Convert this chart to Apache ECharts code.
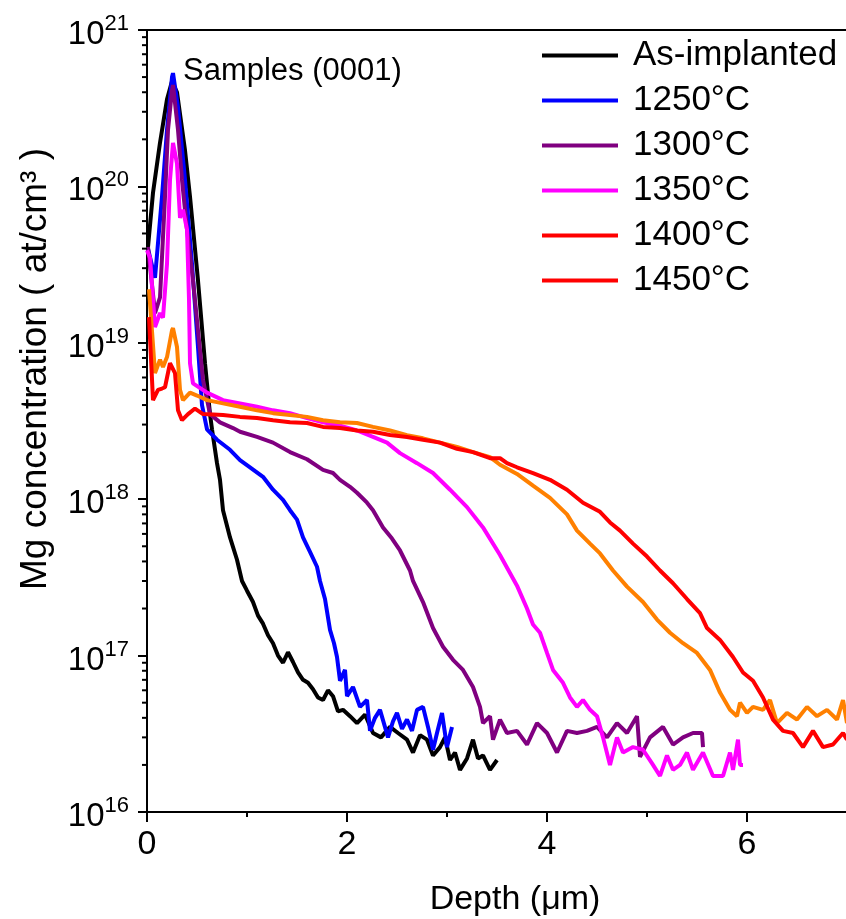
<!DOCTYPE html>
<html><head><meta charset="utf-8">
<script src="https://cdn.jsdelivr.net/npm/echarts@6/dist/echarts.min.js"></script>
<style>html,body{margin:0;padding:0;background:#fff}#c{width:846px;height:919px}</style>
</head><body><div id="c"></div>
<script>
// ---- data (depth in µm, Mg concentration in at/cm3) ----
const seriesNames = ['As-implanted', '1250°C', '1300°C', '1350°C', '1400°C', '1450°C'];
const xTicks = [0, 2, 4, 6];
const yDecades = [1e16, 1e17, 1e18, 1e19, 1e20, 1e21];

const asImpDepth = [0.01,0.06,0.13,0.20,0.25,0.30,0.33,0.38,0.43,0.51,0.58,0.63,0.65,0.70,0.73,0.76,0.83,0.90,0.95,1.00,1.06,1.11,1.16,1.21,1.26,1.31,1.36,1.41,1.46,1.51,1.56,1.61,1.66,1.71,1.76,1.81,1.86,1.91,1.96,2.03,2.10,2.18,2.26,2.34,2.43,2.51,2.60,2.66,2.73,2.80,2.86,2.93,2.98,3.03,3.08,3.13,3.20,3.26,3.31,3.36,3.43,3.50];
const asImpConc = [4.1e19,9.1e19,1.9e20,3.6e20,4.7e20,4.0e20,2.9e20,1.7e20,8.6e19,2.5e19,7.4e18,3.5e18,2.8e18,1.7e18,1.33e18,8.5e17,5.7e17,4.1e17,3.0e17,2.6e17,2.2e17,1.8e17,1.6e17,1.35e17,1.2e17,1.0e17,9.0e16,1.05e17,9.1e16,7.8e16,7.0e16,6.7e16,6.1e16,5.4e16,5.2e16,6.0e16,5.5e16,4.4e16,4.5e16,4.1e16,3.7e16,4.2e16,3.2e16,3.0e16,3.5e16,3.2e16,2.9e16,2.4e16,3.1e16,2.9e16,2.3e16,2.6e16,3.0e16,2.15e16,2.4e16,1.86e16,2.2e16,2.9e16,2.2e16,2.3e16,1.86e16,2.15e16];

const t1250Depth = [0.01,0.08,0.15,0.20,0.25,0.26,0.31,0.38,0.45,0.51,0.55,0.60,0.70,0.83,0.93,1.03,1.16,1.26,1.36,1.43,1.50,1.56,1.63,1.70,1.73,1.78,1.83,1.87,1.90,1.93,1.98,2.00,2.06,2.13,2.20,2.23,2.28,2.33,2.41,2.46,2.50,2.55,2.60,2.65,2.70,2.76,2.81,2.86,2.90,2.95,3.00,3.05];
const t1250Conc = [4.0e19,2.6e19,8.6e19,2.3e20,5.0e20,5.3e20,3.2e20,1.1e20,3.2e19,9.4e18,4.0e18,2.8e18,2.4e18,2.07e18,1.78e18,1.6e18,1.39e18,1.15e18,9.9e17,8.5e17,7.4e17,5.7e17,4.6e17,3.7e17,3.0e17,2.3e17,1.46e17,1.2e17,9.8e16,6.9e16,8.1e16,5.5e16,6.3e16,4.7e16,5.2e16,3.3e16,4.0e16,4.5e16,3.0e16,3.8e16,4.3e16,3.4e16,3.9e16,3.3e16,4.5e16,4.7e16,3.5e16,2.5e16,3.2e16,4.3e16,2.6e16,3.5e16];

const t1300Depth = [0.01,0.08,0.13,0.18,0.21,0.25,0.26,0.31,0.35,0.40,0.46,0.51,0.56,0.63,0.73,0.86,0.93,1.10,1.26,1.43,1.60,1.76,1.86,1.93,2.03,2.10,2.20,2.26,2.36,2.45,2.53,2.63,2.66,2.76,2.86,2.96,3.06,3.16,3.26,3.33,3.36,3.43,3.46,3.53,3.60,3.70,3.80,3.90,4.00,4.10,4.20,4.30,4.40,4.50,4.60,4.70,4.80,4.90,4.93,5.03,5.16,5.26,5.36,5.46,5.55,5.56];
const t1300Conc = [4.1e19,1.55e19,1.95e19,8.6e19,2.3e20,4.1e20,4.45e20,2.3e20,1.1e20,5.3e19,2.5e19,1.2e19,5.8e18,3.5e18,3.1e18,2.85e18,2.7e18,2.5e18,2.3e18,2.0e18,1.8e18,1.54e18,1.47e18,1.33e18,1.2e18,1.1e18,9.5e17,8.5e17,6.6e17,5.6e17,4.7e17,3.5e17,3.0e17,2.2e17,1.5e17,1.14e17,9.4e16,8.1e16,6.3e16,4.7e16,3.7e16,4.1e16,2.9e16,3.9e16,3.2e16,3.3e16,2.7e16,3.7e16,3.2e16,2.4e16,3.3e16,3.2e16,3.3e16,3.5e16,3.0e16,3.7e16,3.2e16,4.1e16,2.25e16,3.0e16,3.5e16,2.7e16,3.0e16,3.2e16,3.2e16,2.6e16];

const t1350Depth = [0.00,0.03,0.08,0.13,0.16,0.20,0.23,0.26,0.30,0.33,0.36,0.40,0.42,0.43,0.46,0.60,0.76,0.93,1.10,1.26,1.43,1.60,1.76,1.93,2.10,2.26,2.40,2.53,2.70,2.86,3.03,3.20,3.36,3.53,3.70,3.80,3.86,3.93,4.00,4.06,4.16,4.23,4.30,4.36,4.43,4.50,4.56,4.63,4.70,4.76,4.86,4.96,5.06,5.13,5.20,5.26,5.33,5.40,5.46,5.56,5.66,5.76,5.83,5.86,5.91,5.93,5.96];
const t1350Conc = [3.9e19,3.5e19,1.26e19,1.55e19,1.45e19,3.2e19,1.1e20,1.9e20,1.4e20,6.3e19,7.1e19,5.3e19,1.9e19,7.4e18,5.5e18,4.8e18,4.3e18,4.1e18,3.9e18,3.7e18,3.55e18,3.3e18,3.1e18,2.95e18,2.75e18,2.5e18,2.3e18,1.97e18,1.7e18,1.47e18,1.15e18,8.9e17,6.6e17,4.4e17,2.8e17,2.0e17,1.58e17,1.4e17,1.04e17,8.1e16,6.7e16,5.4e16,4.7e16,5.2e16,4.5e16,4.1e16,3.0e16,2.0e16,3.0e16,2.4e16,2.6e16,2.5e16,2.0e16,1.7e16,2.3e16,1.86e16,2.0e16,2.4e16,1.86e16,2.4e16,1.7e16,1.7e16,2.4e16,1.86e16,2.9e16,2.0e16,2.0e16];

const t1400Depth = [0.02,0.08,0.13,0.16,0.20,0.25,0.26,0.30,0.33,0.36,0.43,0.50,0.60,0.76,0.93,1.10,1.26,1.43,1.60,1.76,1.93,2.10,2.26,2.43,2.60,2.76,2.93,3.10,3.26,3.43,3.53,3.70,3.86,4.03,4.20,4.30,4.43,4.53,4.66,4.80,4.96,5.10,5.23,5.36,5.50,5.63,5.73,5.83,5.90,5.93,6.00,6.06,6.16,6.23,6.30,6.40,6.50,6.60,6.70,6.80,6.90,6.96,7.00];
const t1400Conc = [2.2e19,6.4e18,7.8e18,7.0e18,8.1e18,1.2e19,1.24e19,9.4e18,5.0e18,4.3e18,4.8e18,4.6e18,4.3e18,4.1e18,3.9e18,3.7e18,3.55e18,3.45e18,3.36e18,3.2e18,3.1e18,3.07e18,2.9e18,2.75e18,2.57e18,2.45e18,2.3e18,2.16e18,2.0e18,1.86e18,1.66e18,1.45e18,1.22e18,1.02e18,8.0e17,6.3e17,5.2e17,4.5e17,3.5e17,2.76e17,2.2e17,1.7e17,1.4e17,1.2e17,1.04e17,8.1e16,5.8e16,4.5e16,4.1e16,5.0e16,4.3e16,4.7e16,4.5e16,5.2e16,3.7e16,4.3e16,3.9e16,4.7e16,4.1e16,4.5e16,3.9e16,5.2e16,3.7e16];

const t1450Depth = [0.02,0.06,0.11,0.15,0.18,0.23,0.25,0.28,0.31,0.35,0.41,0.48,0.56,0.76,0.93,1.10,1.26,1.43,1.60,1.76,1.93,2.10,2.26,2.43,2.60,2.76,2.93,3.10,3.26,3.43,3.53,3.60,3.70,3.86,4.03,4.20,4.36,4.53,4.63,4.73,4.86,5.00,5.13,5.26,5.40,5.53,5.60,5.73,5.86,5.96,6.06,6.16,6.26,6.36,6.46,6.56,6.66,6.76,6.86,6.96,7.00];
const t1450Conc = [1.46e19,4.3e18,5.0e18,5.1e18,5.2e18,7.4e18,7.5e18,6.4e18,3.7e18,3.2e18,3.5e18,3.8e18,3.5e18,3.45e18,3.36e18,3.3e18,3.2e18,3.1e18,3.07e18,2.9e18,2.85e18,2.75e18,2.7e18,2.57e18,2.5e18,2.4e18,2.3e18,2.1e18,2.0e18,1.83e18,1.83e18,1.7e18,1.6e18,1.47e18,1.33e18,1.15e18,9.5e17,8.3e17,7.1e17,6.3e17,5.2e17,4.3e17,3.5e17,2.9e17,2.3e17,1.87e17,1.5e17,1.26e17,9.8e16,7.8e16,6.9e16,5.4e16,3.9e16,3.3e16,3.2e16,2.6e16,3.3e16,2.6e16,2.7e16,3.2e16,2.9e16];

const seriesColors = ['#000000', '#0000ff', '#800080', '#ff00ff', '#ff8000', '#ff0000'];
const legendColors = ['#000000', '#0000ff', '#800080', '#ff00ff', '#ff0000', '#ff0000'];

const depths = [asImpDepth, t1250Depth, t1300Depth, t1350Depth, t1400Depth, t1450Depth];
const concs = [asImpConc, t1250Conc, t1300Conc, t1350Conc, t1400Conc, t1450Conc];

// minor tick values for log axis (2..9 x each decade)
const minorVals = [];
for (let e = 16; e < 21; e++) for (let m = 2; m <= 9; m++) minorVals.push([0, m * Math.pow(10, e)]);

const FONT = 'Liberation Sans, Arial, sans-serif';

const chart = echarts.init(document.getElementById('c'), null, {renderer: 'canvas'});

const lineSeries = seriesNames.map((n, i) => ({
  name: n, type: 'line', showSymbol: false, symbol: 'none',
  data: depths[i].map((d, j) => [d, concs[i][j]]),
  lineStyle: {color: seriesColors[i], width: 4},
  itemStyle: {color: seriesColors[i]},
  z: 3 + i, animation: false
}));

const option = {
  animation: false,
  backgroundColor: '#fff',
  grid: {left: 147, top: 30, right: -1, bottom: 107, containLabel: false, outerBoundsMode: 'none'},
  legend: {
    orient: 'vertical', left: 537, top: 33, icon: 'rect',
    itemWidth: 76, itemHeight: 4, itemGap: 10,
    textStyle: {fontFamily: FONT, fontSize: 35, color: '#000', lineHeight: 35, padding: [0, 0, 0, 10]},
    data: seriesNames.map((n, i) => ({name: n, itemStyle: {color: legendColors[i]}}))
  },
  xAxis: [
    {type: 'value', min: 0, max: 7, interval: 2, position: 'bottom',
     axisLine: {lineStyle: {color: '#000', width: 2}},
     axisTick: {inside: false, length: 10, lineStyle: {color: '#000', width: 2}},
     axisLabel: {fontFamily: FONT, fontSize: 34, color: '#000', margin: 16, showMaxLabel: false,
       formatter: v => (xTicks.indexOf(v) >= 0 ? String(v) : '')},
     splitLine: {show: false},
     name: 'Depth (\u03bcm)', nameLocation: 'middle', nameGap: 71,
     nameTextStyle: {fontFamily: FONT, fontSize: 34, color: '#000', padding: [0, 0, 0, 36]}},
    {type: 'value', min: 0, max: 7, interval: 1, position: 'bottom',
     axisLine: {show: false}, axisLabel: {show: false}, splitLine: {show: false},
     axisTick: {length: 5, lineStyle: {color: '#000', width: 2}}},
    {type: 'value', min: 0, max: 7, position: 'top',
     axisLine: {lineStyle: {color: '#000', width: 2}}, axisTick: {show: false},
     axisLabel: {show: false}, splitLine: {show: false}}
  ],
  yAxis: [{
    type: 'log', logBase: 10, min: 1e16, max: 1e21,
    axisLine: {show: true, lineStyle: {color: '#000', width: 2}},
    axisTick: {show: true, inside: false, length: 9, lineStyle: {color: '#000', width: 2}},
    splitLine: {show: false}, minorTick: {show: false},
    axisLabel: {
      margin: 18,
      formatter: v => '{a|10}{b|' + Math.round(Math.log10(v)) + '}',
      rich: {
        a: {fontFamily: FONT, fontSize: 33, color: '#000', padding: [10, 0, 0, 0]},
        b: {fontFamily: FONT, fontSize: 22, color: '#000', padding: [0, 0, 12, 0]}
      }
    }
  }],
  graphic: [
    {type: 'text', left: 183, top: 56, style: {text: 'Samples (0001)', fontFamily: FONT, fontSize: 31, fill: '#000'}},
    {type: 'text', x: 36, y: 369, rotation: Math.PI / 2, style: {
      text: 'Mg concentration ( at/cm\u00b3 )', fontFamily: FONT, fontSize: 37, fill: '#000',
      align: 'center', verticalAlign: 'middle'}}
  ],
  series: lineSeries.concat([{
    type: 'custom', name: 'minorTicks', clip: false, silent: true, z: 10,
    data: minorVals,
    renderItem: (params, api) => {
      const p = api.coord([0, api.value(1)]);
      return {type: 'line', shape: {x1: p[0] - 5, y1: p[1], x2: p[0], y2: p[1]},
              style: {stroke: '#000', lineWidth: 2}};
    }
  }])
};
chart.setOption(option);
</script></body></html>
